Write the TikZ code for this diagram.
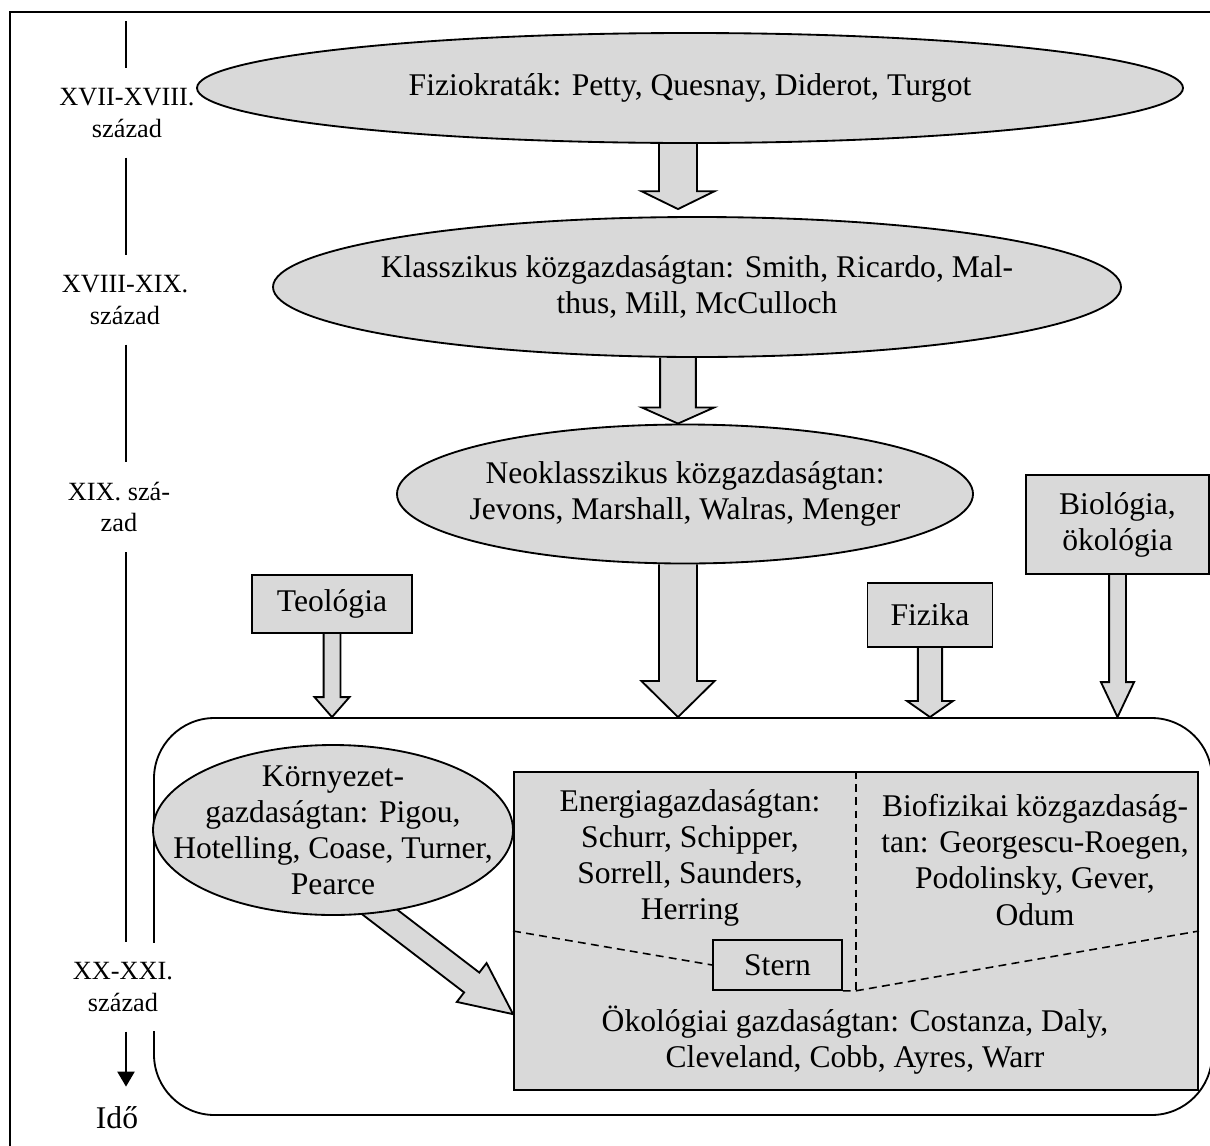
\documentclass[tikz,border=0pt]{standalone}
\usepackage{fontspec}
\setmainfont{Liberation Serif}
\usepackage{tikz}
\usetikzlibrary{positioning,shapes.geometric,arrows.meta,calc}
\definecolor{szurke}{RGB}{217,217,217}
\newlength{\pxu}
\setlength{\pxu}{0.38pt}
\pgfdeclarelayer{hatter}
\pgfsetlayers{hatter,main}

\tikzset{
  szoveg/.style={font=\fontsize{12}{13.7}\selectfont, align=center},
  korszak/.style={font=\fontsize{10}{11.8}\selectfont, align=center, fill=white,
                  inner xsep=0pt, inner ysep=7.5pt},
  iskola/.style={szoveg, ellipse, draw, fill=szurke, line width=0.7pt,
                 inner xsep=-20pt, inner ysep=-6pt},
  tudomany/.style={szoveg, rectangle, draw, fill=szurke, line width=0.6pt,
                   inner sep=0pt},
  blokknyil/.style={draw, fill=szurke, line width=0.7pt},
  valaszto/.style={dash pattern=on 3pt off 2pt, line width=0.6pt}
}

% vastag nyil: honnan, hova, fel szar, fel fej, fejhossz
\newcommand{\tombnyil}[5]{%
  \coordinate (tn-s) at (#1);
  \coordinate (tn-t) at (#2);
  \coordinate (tn-h) at ($(tn-t)!#5!(tn-s)$);
  \filldraw[blokknyil]
    ($(tn-s)!#3!90:(tn-t)$) -- ($(tn-h)!#3!90:(tn-t)$)
    -- ($(tn-h)!#4!90:(tn-t)$) -- (tn-t)
    -- ($(tn-h)!#4!-90:(tn-t)$) -- ($(tn-h)!#3!-90:(tn-t)$)
    -- ($(tn-s)!#3!-90:(tn-t)$);
}

\begin{document}
\begin{tikzpicture}[x=0.38pt, y=-0.38pt]
  % keret
  \useasboundingbox (0,0) rectangle (1210,1146);
  \draw[line width=0.6pt] (10,12) rectangle (1240,1180);

  % nagy lekerekitett doboz
  \node[draw, line width=0.7pt, rounded corners=23pt, inner sep=0pt,
        minimum width=1058\pxu, minimum height=397\pxu] (nagy) at (683,916.5) {};

  % idotengely
  \coordinate (idofent) at (126,21);
  \node[korszak] (ido1) at (127,113) {XVII-XVIII.\\század};
  \node[korszak] (ido2) at (125,300) {XVIII-XIX.\\század};
  \node[korszak] (ido3) at (119,507) {XIX. szá-\\zad};
  \node[korszak] (ido4) at (123,987) {XX-XXI.\\század};
  \node[korszak, font=\fontsize{12}{13.7}\selectfont] (ido) at (117,1118) {Idő};
  \draw[line width=0.75pt] (idofent) -- (ido1.north -| idofent);
  \draw[line width=0.75pt] (ido1.south -| idofent) -- (ido2.north -| idofent);
  \draw[line width=0.75pt] (ido2.south -| idofent) -- (ido3.north -| idofent);
  \draw[line width=0.75pt] (ido3.south -| idofent) -- (ido4.north -| idofent);
  \draw[line width=0.75pt, -{Triangle[width=6.5pt,length=5.7pt]}]
    (ido4.south -| idofent) -- (ido.north -| idofent);

  % iskolak
  \node[iskola, minimum width=986\pxu, minimum height=110\pxu] (fizio) at (690,88)
    {Fiziokraták: Petty, Quesnay, Diderot, Turgot};
  \node[iskola, minimum width=848\pxu, minimum height=140\pxu] (klassz) at (697,287)
    {Klasszikus közgazdaságtan: Smith, Ricardo, Mal-\\thus, Mill, McCulloch};
  \node[iskola, minimum width=576\pxu, minimum height=139\pxu] (neo) at (685,494)
    {Neoklasszikus közgazdaságtan:\\Jevons, Marshall, Walras, Menger};

  % tudomanyteruletek
  \node[tudomany, minimum width=160\pxu, minimum height=58\pxu] (teo) at (332,604) {Teológia};
  \node[tudomany, minimum width=125\pxu, minimum height=64\pxu] (fiz) at (930,615) {Fizika};
  \node[tudomany, minimum width=183\pxu, minimum height=99\pxu] (bio) at (1117.5,524.5)
    {Biológia,\\ökológia};

  % belso szurke teglalap
  \node[draw, fill=szurke, line width=0.7pt, inner sep=0pt,
        minimum width=684\pxu, minimum height=318\pxu] (okol) at (856,931) {};
  \node[szoveg] (energia) at (690,858)
    {Energiagazdaságtan:\\Schurr, Schipper,\\Sorrell, Saunders,\\Herring};
  \node[szoveg] (biofiz) at (1035,860)
    {Biofizikai közgazdaság-\\tan: Georgescu-Roegen,\\Podolinsky, Gever,\\Odum};
  \node[szoveg] (okotxt) at (855,1040)
    {Ökológiai gazdaságtan: Costanza, Daly,\\Cleveland, Cobb, Ayres, Warr};

  % szaggatott hatarok
  \node[tudomany, minimum width=129\pxu, minimum height=50\pxu] (stern) at (777.5,965) {Stern};
  \coordinate (metsz) at (okol.north |- stern.south);
  \draw[valaszto] (okol.north) -- (metsz);
  \draw[valaszto] (okol.west) -- (stern.west);
  \draw[valaszto] (stern.south east) -- (metsz) -- (okol.east);

  \node[iskola, minimum width=360\pxu, minimum height=170\pxu] (korny) at (333,830)
    {Környezet-\\gazdaságtan: Pigou,\\Hotelling, Coase, Turner,\\Pearce};

  % vastag nyilak
  \coordinate (tengely) at (678,0);
  \coordinate (kcel) at ($(okol.south west)!0.24!(okol.north west)$);
  \begin{pgfonlayer}{hatter}
    \tombnyil{tengely |- fizio.south}{$(tengely |- klassz.north)+(0,-7)$}{7.2pt}{13.9pt}{6.8pt}
    \tombnyil{tengely |- klassz.south}{tengely |- neo.north}{6.8pt}{13.7pt}{6.1pt}
    \tombnyil{tengely |- neo.south}{tengely |- nagy.north}{7.2pt}{13.9pt}{13.7pt}
    \tombnyil{teo.south}{teo.south |- nagy.north}{3.2pt}{6.65pt}{7.6pt}
    \tombnyil{fiz.south}{fiz.south |- nagy.north}{4.6pt}{8.7pt}{6.1pt}
    \tombnyil{bio.south}{bio.south |- nagy.north}{3.2pt}{6.3pt}{13.3pt}
    \tombnyil{$(korny.-60)!-6pt!(kcel)$}{kcel}{4.75pt}{9.3pt}{19.8pt}
  \end{pgfonlayer}
\end{tikzpicture}
\end{document}
